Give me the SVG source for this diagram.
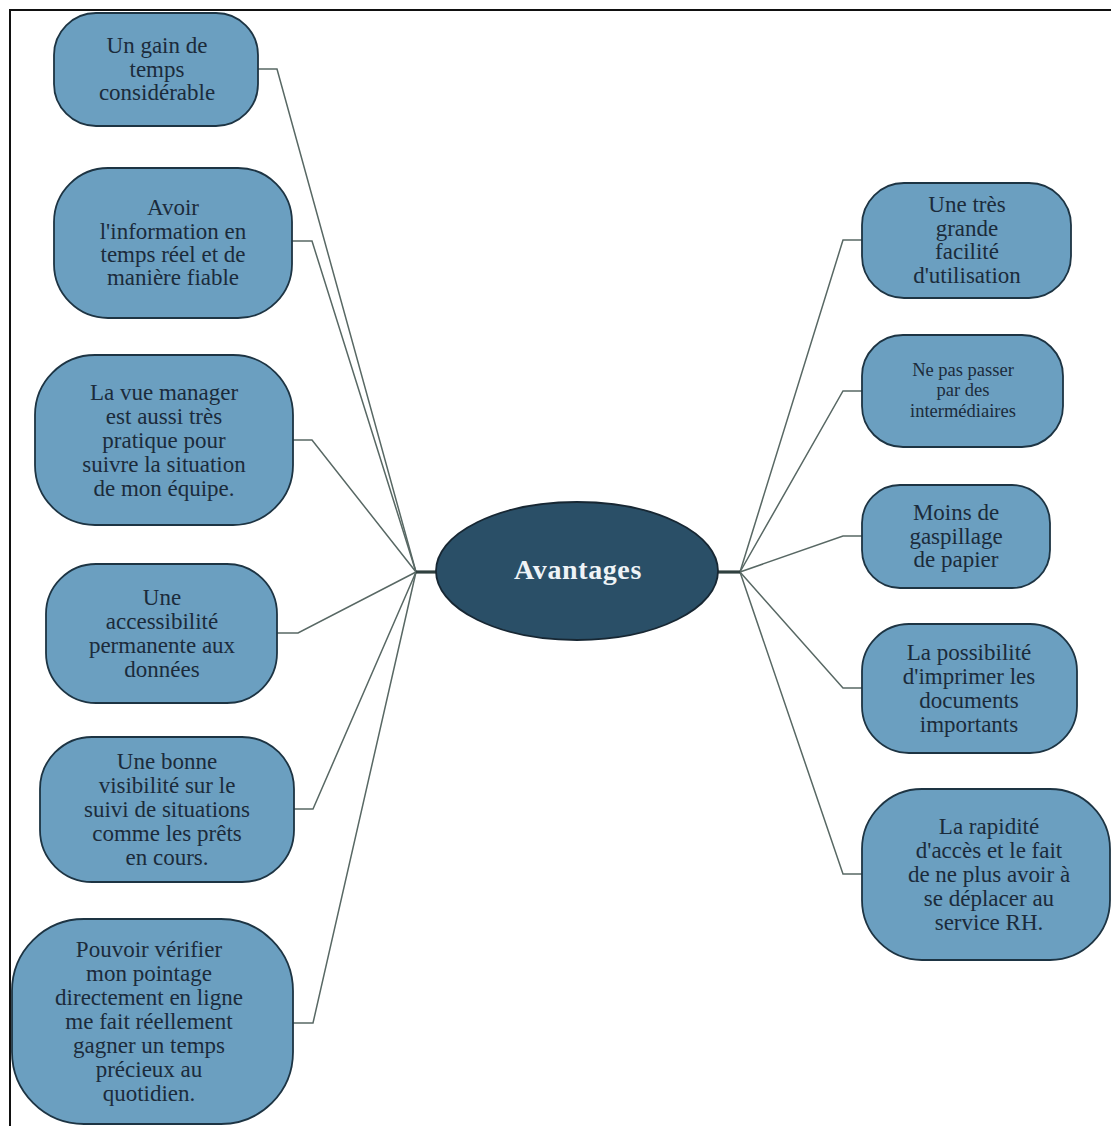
<svg xmlns="http://www.w3.org/2000/svg" width="1111" height="1126" viewBox="0 0 1111 1126">
  <style>
    .node rect { fill: #6b9fc0; stroke: #1d3443; stroke-width: 1.8; }
    .node text { font-family: 'Liberation Serif', Tinos, 'Times New Roman', Times, 'DejaVu Serif', serif; font-size: 23px; fill: #1b2b3b; text-anchor: middle; }
    .node text.small { font-size: 18.5px; }
    .link { fill: none; stroke: #586864; stroke-width: 1.5; }
    .stem { fill: none; stroke: #2f403f; stroke-width: 3.2; }
    #center ellipse { fill: #2a4f67; stroke: #172733; stroke-width: 1.8; }
    #center text { font-family: 'Liberation Serif', Tinos, 'Times New Roman', Times, 'DejaVu Serif', serif; font-size: 28px; font-weight: bold; fill: #eef3f6; text-anchor: middle; letter-spacing: 0.6px; }
  </style>

  <rect width="1111" height="1126" fill="#ffffff"/>
  <!-- page frame: only top and left edges fall inside the view -->
  <path d="M10 1126 V10 H1111" fill="none" stroke="#111111" stroke-width="2"/>

  <!-- connectors -->
  <g id="connectors">
    <path class="link" d="M258 69 H277 L416 572"/>
    <path class="link" d="M292 241 H312 L416 572"/>
    <path class="link" d="M293 440 H312 L416 572"/>
    <path class="link" d="M277 633 H298 L416 572"/>
    <path class="link" d="M294 809 H313 L416 572"/>
    <path class="link" d="M293 1023 H313 L416 572"/>
    <path class="stem" d="M416 572 H437"/>

    <path class="link" d="M740 572 L843 240 H862"/>
    <path class="link" d="M740 572 L843 391 H862"/>
    <path class="link" d="M740 572 L843 536 H862"/>
    <path class="link" d="M740 572 L843 688 H862"/>
    <path class="link" d="M740 572 L843 874 H862"/>
    <path class="stem" d="M718 572 H740"/>
  </g>

  <g id="center">
    <ellipse cx="577" cy="571" rx="141" ry="69"/>
    <text x="578" y="579">Avantages</text>
  </g>

  <!-- left branch -->
  <g id="n-gain-temps" class="node">
    <rect x="54" y="13" width="204" height="113" rx="42" ry="42"/>
    <text x="157"><tspan x="157" y="53">Un gain de</tspan><tspan x="157" y="77">temps</tspan><tspan x="157" y="100">considérable</tspan></text>
  </g>

  <g id="n-information" class="node">
    <rect x="54" y="168" width="238" height="150" rx="54" ry="54"/>
    <text x="173"><tspan x="173" y="215">Avoir</tspan><tspan x="173" y="239">l'information en</tspan><tspan x="173" y="262">temps réel et de</tspan><tspan x="173" y="285">manière fiable</tspan></text>
  </g>

  <g id="n-vue-manager" class="node">
    <rect x="35" y="355" width="258" height="170" rx="60" ry="60"/>
    <text x="164"><tspan x="164" y="400">La vue manager</tspan><tspan x="164" y="424">est aussi très</tspan><tspan x="164" y="448">pratique pour</tspan><tspan x="164" y="472">suivre la situation</tspan><tspan x="164" y="496">de mon équipe.</tspan></text>
  </g>

  <g id="n-accessibilite" class="node">
    <rect x="46" y="564" width="231" height="139" rx="50" ry="50"/>
    <text x="162"><tspan x="162" y="605">Une</tspan><tspan x="162" y="629">accessibilité</tspan><tspan x="162" y="653">permanente aux</tspan><tspan x="162" y="677">données</tspan></text>
  </g>

  <g id="n-visibilite" class="node">
    <rect x="40" y="737" width="254" height="145" rx="52" ry="52"/>
    <text x="167"><tspan x="167" y="769">Une bonne</tspan><tspan x="167" y="793">visibilité sur le</tspan><tspan x="167" y="817">suivi de situations</tspan><tspan x="167" y="841">comme les prêts</tspan><tspan x="167" y="865">en cours.</tspan></text>
  </g>

  <g id="n-pointage" class="node">
    <rect x="12" y="919" width="281" height="205" rx="72" ry="72"/>
    <text x="149"><tspan x="149" y="957">Pouvoir vérifier</tspan><tspan x="149" y="981">mon pointage</tspan><tspan x="149" y="1005">directement en ligne</tspan><tspan x="149" y="1029">me fait réellement</tspan><tspan x="149" y="1053">gagner un temps</tspan><tspan x="149" y="1077">précieux au</tspan><tspan x="149" y="1101">quotidien.</tspan></text>
  </g>

  <!-- right branch -->
  <g id="n-facilite" class="node">
    <rect x="862" y="183" width="209" height="115" rx="42" ry="42"/>
    <text x="967"><tspan x="967" y="212">Une très</tspan><tspan x="967" y="236">grande</tspan><tspan x="967" y="259">facilité</tspan><tspan x="967" y="283">d'utilisation</tspan></text>
  </g>

  <g id="n-intermediaires" class="node">
    <rect x="862" y="335" width="201" height="112" rx="41" ry="41"/>
    <text class="small" x="963"><tspan x="963" y="376">Ne pas passer</tspan><tspan x="963" y="396">par des</tspan><tspan x="963" y="417">intermédiaires</tspan></text>
  </g>

  <g id="n-papier" class="node">
    <rect x="862" y="485" width="188" height="103" rx="38" ry="38"/>
    <text x="956"><tspan x="956" y="520">Moins de</tspan><tspan x="956" y="544">gaspillage</tspan><tspan x="956" y="567">de papier</tspan></text>
  </g>

  <g id="n-imprimer" class="node">
    <rect x="862" y="624" width="215" height="129" rx="47" ry="47"/>
    <text x="969"><tspan x="969" y="660">La possibilité</tspan><tspan x="969" y="684">d'imprimer les</tspan><tspan x="969" y="708">documents</tspan><tspan x="969" y="732">importants</tspan></text>
  </g>

  <g id="n-rapidite" class="node">
    <rect x="862" y="789" width="248" height="171" rx="60" ry="60"/>
    <text x="989"><tspan x="989" y="834">La rapidité</tspan><tspan x="989" y="858">d'accès et le fait</tspan><tspan x="989" y="882">de ne plus avoir à</tspan><tspan x="989" y="906">se déplacer au</tspan><tspan x="989" y="930">service RH.</tspan></text>
  </g>
</svg>
